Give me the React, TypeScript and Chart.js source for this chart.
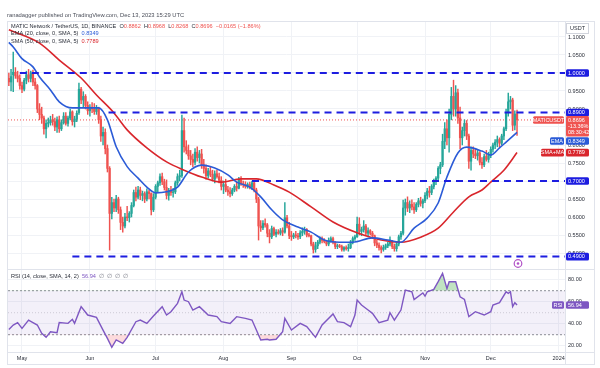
import React, { useEffect, useRef } from 'react';
import { Chart, registerables } from 'chart.js';
Chart.register(...registerables);

// ---------- data ----------
// first candle is 2023-04-25 (day index -6, day 0 = 2023-05-01), one candle per day
const firstDay = -6;
// [open, high, low, close]
const candles: number[][] = [
  [.985,1.000,.965,.975],[.975,1.010,.950,.990],[.995,1.058,.948,1.002],[1.002,1.015,.985,.992],
  [.992,1.005,.975,.985],[.985,.995,.955,.965],[.965,.975,.945,.955],[.955,.985,.950,.980],
  [.980,1.005,.970,.995],[.995,1.010,.975,.985],[.985,1.005,.975,1.000],[1.000,1.008,.965,.975],
  [.975,.985,.955,.965],[.965,.968,.890,.900],[.900,.915,.870,.885],[.885,.905,.860,.875],
  [.875,.880,.830,.845],[.845,.870,.820,.860],[.860,.875,.850,.862],[.862,.880,.855,.870],
  [.870,.885,.855,.865],[.865,.875,.840,.850],[.850,.878,.835,.870],[.870,.880,.835,.845],
  [.845,.870,.840,.862],[.862,.890,.858,.880],[.880,.890,.855,.860],[.860,.880,.852,.875],
  [.875,.900,.870,.892],[.892,.895,.855,.865],[.865,.880,.850,.872],[.872,.895,.865,.888],
  [.890,.972,.885,.955],[.955,.960,.915,.925],[.925,.948,.905,.935],[.935,.940,.900,.910],
  [.910,.920,.885,.895],[.895,.912,.880,.905],[.905,.918,.890,.900],[.900,.915,.885,.893],
  [.893,.910,.885,.903],[.903,.905,.860,.870],[.870,.880,.810,.825],[.825,.850,.800,.835],
  [.835,.845,.775,.790],[.790,.800,.725,.735],[.735,.740,.508,.610],[.610,.655,.595,.640],
  [.640,.650,.615,.625],[.625,.660,.615,.650],[.650,.655,.610,.620],[.620,.628,.565,.585],
  [.585,.600,.558,.575],[.575,.610,.570,.600],[.600,.630,.590,.598],[.598,.615,.586,.610],
  [.610,.640,.600,.632],[.632,.675,.628,.668],[.668,.683,.645,.655],[.655,.685,.650,.675],
  [.675,.683,.648,.660],[.660,.672,.645,.665],[.665,.670,.640,.650],[.650,.678,.645,.670],
  [.670,.675,.650,.665],[.665,.667,.606,.620],[.620,.665,.615,.655],[.655,.690,.650,.685],
  [.685,.700,.670,.695],[.695,.720,.688,.712],[.712,.722,.690,.698],[.698,.705,.675,.682],
  [.682,.703,.650,.660],[.660,.680,.647,.672],[.672,.685,.660,.668],[.668,.680,.655,.670],
  [.670,.700,.665,.695],[.695,.720,.688,.712],[.712,.730,.700,.715],[.715,.883,.710,.840],
  [.840,.875,.780,.795],[.795,.812,.775,.785],[.785,.800,.760,.770],[.770,.785,.745,.760],
  [.760,.775,.740,.752],[.752,.790,.745,.780],[.780,.795,.755,.765],[.765,.785,.750,.775],
  [.775,.788,.735,.745],[.745,.760,.722,.735],[.735,.745,.705,.715],[.715,.735,.708,.728],
  [.728,.740,.712,.718],[.718,.730,.700,.705],[.705,.728,.695,.720],[.720,.730,.708,.712],
  [.712,.722,.695,.702],[.702,.712,.675,.685],[.685,.700,.665,.690],[.690,.705,.670,.675],
  [.675,.685,.660,.670],[.670,.682,.656,.665],[.665,.680,.660,.675],[.675,.690,.670,.685],
  [.685,.698,.672,.680],[.680,.710,.678,.702],[.702,.712,.688,.692],[.692,.700,.682,.690],
  [.690,.698,.680,.685],[.685,.695,.680,.690],[.690,.697,.678,.683],[.683,.700,.676,.695],
  [.695,.698,.670,.675],[.675,.680,.640,.650],[.650,.655,.536,.575],[.575,.590,.560,.570],
  [.570,.590,.565,.582],[.582,.595,.572,.578],[.578,.582,.545,.555],[.555,.565,.528,.545],
  [.545,.575,.540,.568],[.568,.572,.548,.552],[.552,.565,.545,.558],[.558,.565,.552,.555],
  [.555,.568,.550,.562],[.562,.570,.548,.558],[.558,.640,.555,.598],[.598,.605,.570,.575],
  [.575,.585,.540,.548],[.548,.560,.535,.545],[.545,.555,.540,.550],[.550,.560,.542,.548],
  [.548,.555,.538,.545],[.545,.562,.540,.556],[.556,.570,.548,.560],[.560,.572,.552,.565],
  [.565,.568,.545,.550],[.550,.555,.545,.548],[.548,.550,.520,.525],[.525,.530,.500,.510],
  [.510,.530,.502,.520],[.520,.535,.512,.530],[.530,.545,.525,.540],[.540,.545,.528,.535],
  [.535,.540,.528,.532],[.532,.535,.520,.525],[.525,.542,.520,.535],[.535,.545,.530,.540],
  [.540,.544,.525,.530],[.530,.532,.512,.518],[.518,.525,.512,.520],[.520,.524,.515,.518],
  [.518,.522,.505,.510],[.510,.518,.505,.515],[.515,.520,.508,.512],[.512,.525,.505,.515],
  [.515,.535,.512,.530],[.530,.545,.525,.540],[.540,.550,.535,.545],[.545,.600,.543,.580],
  [.580,.598,.550,.560],[.560,.572,.548,.565],[.565,.590,.558,.575],[.575,.580,.550,.555],
  [.555,.570,.548,.562],[.562,.565,.550,.555],[.555,.560,.540,.548],[.548,.550,.520,.528],
  [.528,.535,.515,.522],[.522,.528,.508,.515],[.515,.520,.500,.510],[.510,.522,.505,.515],
  [.515,.525,.510,.520],[.520,.530,.515,.525],[.525,.545,.520,.530],[.530,.535,.512,.518],
  [.518,.525,.505,.512],[.512,.530,.505,.525],[.525,.550,.520,.545],[.545,.560,.538,.555],
  [.555,.647,.550,.625],[.625,.650,.605,.640],[.640,.656,.615,.625],[.625,.645,.612,.635],
  [.635,.648,.620,.628],[.628,.640,.610,.620],[.620,.640,.615,.635],[.635,.652,.628,.645],
  [.645,.655,.630,.638],[.638,.650,.625,.645],[.645,.668,.640,.660],[.660,.680,.650,.672],
  [.672,.685,.655,.668],[.668,.690,.662,.685],[.685,.705,.678,.700],[.700,.712,.690,.708],
  [.708,.740,.700,.735],[.735,.752,.720,.745],[.745,.830,.740,.810],[.810,.862,.790,.845],
  [.845,.870,.800,.820],[.820,.900,.780,.885],[.885,.960,.870,.935],[.935,.980,.880,.900],
  [.900,.965,.880,.945],[.945,.955,.860,.875],[.875,.905,.790,.820],[.820,.850,.800,.840],
  [.840,.870,.825,.860],[.860,.868,.815,.825],[.825,.830,.735,.755],[.755,.795,.730,.785],
  [.785,.795,.765,.775],[.775,.790,.762,.770],[.770,.785,.758,.778],[.778,.782,.745,.752],
  [.752,.765,.735,.745],[.745,.775,.740,.768],[.768,.785,.755,.760],[.760,.780,.752,.772],
  [.772,.795,.765,.788],[.788,.805,.780,.800],[.800,.815,.790,.808],[.808,.825,.795,.815],
  [.815,.820,.795,.805],[.805,.830,.800,.825],[.825,.850,.815,.845],[.845,.900,.840,.890],
  [.890,.944,.880,.920],[.920,.935,.900,.925],[.925,.930,.840,.855],[.855,.895,.842,.886],
  [.8862,.8968,.8268,.8696],
];

const emaDays = [-6,-4,0,5,8,13,17,23,28,35,39,43,48,53,57,61,66,71,76,82,88,94,98,104,109,114,119,126,132,138,145,151,160,167,173,179,185,190,194,199,203,210,214,218,221,226];
const emaValues = [1.085,1.072,1.04,1.017,0.989,0.953,0.92,0.903,0.903,0.903,0.87,0.795,0.74,0.708,0.683,0.667,0.67,0.683,0.725,0.744,0.736,0.717,0.697,0.683,0.656,0.62,0.592,0.572,0.558,0.536,0.53,0.53,0.542,0.536,0.53,0.569,0.597,0.639,0.711,0.778,0.794,0.783,0.772,0.792,0.808,0.8349];

const smaDays = [-6,8,17,27,34,42,48,57,66,74,82,91,100,107,115,122,132,142,153,164,173,182,190,197,204,210,214,220,226];
const smaValues = [1.12,1.083,1.036,0.986,0.939,0.889,0.842,0.792,0.753,0.73,0.711,0.697,0.706,0.706,0.689,0.669,0.628,0.586,0.556,0.536,0.53,0.544,0.569,0.614,0.656,0.675,0.697,0.73,0.7789];

const rsiDays = [-6,-4,-2,0,3,5,7,9,11,13,16,17,21,23,24,27,30,34,37,39,41,43,46,48,52,54,57,60,64,66,68,71,73,74,76,78,81,85,89,91,95,98,102,105,107,109,112,113,116,119,120,123,127,130,134,137,142,144,147,150,152,153,155,158,160,163,167,168,170,173,175,178,179,183,184,185,188,190,192,194,195,198,200,202,204,207,209,211,214,215,218,221,222,223,224,225,226];
const rsiValues = [34.8,38.8,41,35.8,43.3,41,38.8,31.2,27.6,32.7,31.8,41,40.3,44,40.3,55.5,47.9,45.8,34.2,26.7,18.5,25.2,22.1,27.6,41.8,43.3,40.3,47,55.5,47.9,50.9,58.5,69,61.5,60,52.4,55.5,47.9,46.4,41.8,40.3,46.4,44.8,43.3,34.2,25.2,25.8,25.2,25.8,32.7,44.8,34.2,40.3,37.3,27.6,38.8,48.8,41.8,41,37.3,47.9,61.5,57,52.4,49.4,41,43.3,50,43.3,52.4,70.6,69,62,68,65,69,71.2,78.2,85.8,72,78.2,78.2,64.5,62,46.4,50.9,49.4,47.9,50.9,57,59.1,69,67.6,69,55.5,59.1,56.94];

const monthTicks = [0, 31, 61, 92, 123, 153, 184, 214, 245];
const monthLabels = ['May', 'Jun', 'Jul', 'Aug', 'Sep', 'Oct', 'Nov', 'Dec', '2024'];
const priceTicks = [0.5, 0.55, 0.6, 0.65, 0.7, 0.75, 0.8, 0.85, 0.9, 0.95, 1.0, 1.05, 1.1];
const rsiTicks = [20, 40, 60, 80];

const levels = [1.0, 0.89, 0.7, 0.49];
const levelStartDays = [-1, 39.5, 105, 23];
const lastPrice = 0.8696;

const titleText = 'ranadagger published on TradingView.com, Dec 13, 2023 15:29 UTC';

// ---------- styling ----------
const FONT = "'Liberation Sans', Arial, sans-serif";
const UP = '#26a69a';
const DOWN = '#ef5350';
const LEVEL_BLUE = '#1d1de0';
const EMA_BLUE = '#2b5bd7';
const SMA_RED = '#d9262c';
const PURPLE = '#7e57c2';
const TEXT = '#2a2e39';
const GRID = '#f0f2f6';
const X_MIN = -6.39;
const X_MAX = 247.9;

function drawSegs(ctx: any, x: number, y: number, parts: [string, string][]) {
  let cx = x;
  for (const [t, c] of parts) {
    ctx.fillStyle = c;
    ctx.fillText(t, cx, y);
    cx += ctx.measureText(t).width;
  }
}

function box(ctx: any, x0: number, x1: number, y0: number, y1: number, bg: string) {
  ctx.fillStyle = bg;
  ctx.beginPath();
  if (ctx.roundRect) ctx.roundRect(x0, y0, x1 - x0, y1 - y0, 1.5);
  else ctx.rect(x0, y0, x1 - x0, y1 - y0);
  ctx.fill();
}

const overlayPlugin = {
  id: 'tvOverlay',
  beforeDraw(chart: any) {
    const ctx = chart.ctx;
    ctx.save();
    ctx.fillStyle = '#ffffff';
    ctx.fillRect(0, 0, chart.width, chart.height);
    ctx.restore();
  },
  afterDraw(chart: any) {
    const ctx = chart.ctx;
    const ca = chart.chartArea;
    const ys = chart.scales.y;
    const rs = chart.scales.yRsi;
    ctx.save();
    // frame and separators
    ctx.strokeStyle = '#e0e3eb';
    ctx.lineWidth = 1;
    ctx.strokeRect(7.5, 21.5, 587, 343);
    ctx.beginPath();
    ctx.moveTo(ca.right + 0.5, 21.5); ctx.lineTo(ca.right + 0.5, 364.5);
    ctx.moveTo(7.5, Math.round(ys.bottom) + 0.5); ctx.lineTo(594.5, Math.round(ys.bottom) + 0.5);
    ctx.moveTo(7.5, ca.bottom + 0.5); ctx.lineTo(594.5, ca.bottom + 0.5);
    ctx.stroke();

    ctx.textBaseline = 'middle';
    ctx.textAlign = 'left';
    // title
    ctx.font = `5.8px ${FONT}`;
    ctx.fillStyle = '#4a4e59';
    ctx.fillText(titleText, 7, 15);

    // legends
    ctx.font = `5.6px ${FONT}`;
    drawSegs(ctx, 11, 26, [
      ['MATIC Network / TetherUS, 1D, BINANCE  ', TEXT],
      ['O', TEXT], ['0.8862', DOWN], ['  H', TEXT], ['0.8968', DOWN],
      ['  L', TEXT], ['0.8268', DOWN], ['  C', TEXT], ['0.8696', DOWN],
      ['  \u22120.0165 (\u22121.86%)', DOWN],
    ]);
    drawSegs(ctx, 11, 33.5, [['EMA (20, close, 0, SMA, 5)  ', TEXT], ['0.8349', EMA_BLUE]]);
    drawSegs(ctx, 11, 41, [['SMA (50, close, 0, SMA, 5)  ', TEXT], ['0.7789', SMA_RED]]);
    drawSegs(ctx, 11, 276, [['RSI (14, close, SMA, 14, 2)  ', TEXT], ['56.94', PURPLE], ['  \u2205  \u2205  \u2205  \u2205', '#787b86']]);

    // axis labels
    const ax0 = ca.right + 1;
    const ax1 = ca.right + 24;
    const tx = ca.right + 3;
    ctx.font = `5.5px ${FONT}`;
    // USDT box
    ctx.fillStyle = '#ffffff';
    ctx.fillRect(ax0, 23, ax1 - ax0, 11);
    ctx.strokeStyle = '#d1d4dc';
    ctx.strokeRect(ax0 + 0.5, 23.5, ax1 - ax0 - 1, 10);
    ctx.fillStyle = TEXT;
    ctx.textAlign = 'center';
    ctx.fillText('USDT', (ax0 + ax1) / 2, 28.7);
    ctx.textAlign = 'left';

    for (const lv of levels) {
      const yc = ys.getPixelForValue(lv);
      box(ctx, ax0, ax1, yc - 3.8, yc + 3.8, LEVEL_BLUE);
      ctx.fillStyle = '#ffffff';
      ctx.fillText(lv.toFixed(4), tx, yc + 0.3);
    }

    // last price
    const yp = ys.getPixelForValue(lastPrice);
    const redBottom = yp + 16.5;
    box(ctx, ax0, ax1, yp - 4, redBottom, DOWN);
    ctx.fillStyle = '#ffffff';
    ctx.fillText(lastPrice.toFixed(4), tx, yp + 0.3);
    ctx.fillText('-13.36%', tx, yp + 6.7);
    ctx.fillText('08:30:42', tx, yp + 13);
    box(ctx, ca.right - 32, ca.right - 1, yp - 3.8, yp + 3.8, DOWN);
    ctx.fillStyle = '#ffffff';
    ctx.textAlign = 'center';
    ctx.fillText('MATICUSDT', ca.right - 16.5, yp + 0.3);
    ctx.textAlign = 'left';

    // EMA / SMA labels
    const emaLast = emaValues[emaValues.length - 1];
    const smaLast = smaValues[smaValues.length - 1];
    const ye = Math.max(ys.getPixelForValue(emaLast), redBottom + 4.5);
    box(ctx, ax0, ax1, ye - 3.8, ye + 3.8, EMA_BLUE);
    box(ctx, ca.right - 15, ca.right - 1, ye - 3.8, ye + 3.8, EMA_BLUE);
    ctx.fillStyle = '#ffffff';
    ctx.fillText(emaLast.toFixed(4), tx, ye + 0.3);
    ctx.textAlign = 'center';
    ctx.fillText('EMA', ca.right - 8, ye + 0.3);
    ctx.textAlign = 'left';
    const ysm = ys.getPixelForValue(smaLast);
    box(ctx, ax0, ax1, ysm - 3.8, ysm + 3.8, SMA_RED);
    box(ctx, ca.right - 24, ca.right - 1, ysm - 3.8, ysm + 3.8, SMA_RED);
    ctx.fillStyle = '#ffffff';
    ctx.fillText(smaLast.toFixed(4), tx, ysm + 0.3);
    ctx.textAlign = 'center';
    ctx.fillText('SMA+MA', ca.right - 12.5, ysm + 0.3);
    ctx.textAlign = 'left';

    // RSI label
    const rsiLast = rsiValues[rsiValues.length - 1];
    const yr = rs.getPixelForValue(rsiLast);
    box(ctx, ax0, ax1, yr - 3.8, yr + 3.8, PURPLE);
    box(ctx, ca.right - 13, ca.right - 1, yr - 3.8, yr + 3.8, PURPLE);
    ctx.fillStyle = '#ffffff';
    ctx.fillText(rsiLast.toFixed(2), tx, yr + 0.3);
    ctx.textAlign = 'center';
    ctx.fillText('RSI', ca.right - 7, yr + 0.3);

    // event marker icon
    ctx.strokeStyle = '#b04fc6';
    ctx.lineWidth = 1.2;
    ctx.beginPath();
    ctx.arc(518, 263.5, 3.8, 0, Math.PI * 2);
    ctx.stroke();
    ctx.fillStyle = '#b04fc6';
    ctx.beginPath();
    ctx.arc(518, 263.5, 1.3, 0, Math.PI * 2);
    ctx.fill();
    ctx.restore();
  },
};

function buildConfig(): any {
  const colors = candles.map((c) => (c[3] >= c[0] ? UP : DOWN));
  const wickData = candles.map((c, i) => ({ x: firstDay + i, y: [c[2], c[1]] }));
  const bodyData = candles.map((c, i) => ({ x: firstDay + i, y: [c[0], c[3]] }));
  const rsiData = rsiDays.map((d, i) => ({ x: d, y: rsiValues[i] }));

  const levelSets = levels.map((lv, i) => ({
    type: 'line',
    yAxisID: 'y',
    data: [{ x: levelStartDays[i], y: lv }, { x: X_MAX, y: lv }],
    borderColor: LEVEL_BLUE,
    borderWidth: 2,
    borderDash: [7, 5],
    pointRadius: 0,
    order: 0,
  }));

  const tickFont = { family: FONT, size: 5.5 };

  return {
    type: 'bar',
    data: {
      datasets: [
        ...levelSets,
        {
          type: 'line', yAxisID: 'y',
          data: [{ x: X_MIN, y: lastPrice }, { x: X_MAX, y: lastPrice }],
          borderColor: DOWN, borderWidth: 1, borderDash: [1, 2], pointRadius: 0, order: 6,
        },
        {
          type: 'line', yAxisID: 'y',
          data: emaDays.map((d, i) => ({ x: d, y: emaValues[i] })),
          borderColor: EMA_BLUE, borderWidth: 1.6, pointRadius: 0, cubicInterpolationMode: 'monotone', order: 1,
        },
        {
          type: 'line', yAxisID: 'y',
          data: smaDays.map((d, i) => ({ x: d, y: smaValues[i] })),
          borderColor: SMA_RED, borderWidth: 1.6, pointRadius: 0, cubicInterpolationMode: 'monotone', order: 1,
        },
        {
          type: 'bar', yAxisID: 'y', data: wickData, backgroundColor: colors,
          barThickness: 0.8, grouped: false, order: 4,
        },
        {
          type: 'bar', yAxisID: 'y', data: bodyData, backgroundColor: colors,
          barThickness: 1.6, minBarLength: 0.8, grouped: false, order: 3,
        },
        // RSI bands
        {
          type: 'line', yAxisID: 'yRsi',
          data: [{ x: X_MIN, y: 70 }, { x: X_MAX, y: 70 }],
          borderColor: '#8a8d96', borderWidth: 1, borderDash: [2, 2], pointRadius: 0, order: 9,
        },
        {
          type: 'line', yAxisID: 'yRsi',
          data: [{ x: X_MIN, y: 30 }, { x: X_MAX, y: 30 }],
          borderColor: '#8a8d96', borderWidth: 1, borderDash: [2, 2], pointRadius: 0, order: 9,
          fill: '-1', backgroundColor: 'rgba(126,87,194,0.09)',
        },
        {
          type: 'line', yAxisID: 'yRsi',
          data: [{ x: X_MIN, y: 50 }, { x: X_MAX, y: 50 }],
          borderColor: 'rgba(138,141,150,0.35)', borderWidth: 1, borderDash: [1, 2], pointRadius: 0, order: 9,
        },
        {
          type: 'line', yAxisID: 'yRsi', data: rsiData,
          borderColor: PURPLE, borderWidth: 1.4, pointRadius: 0, order: 2,
          fill: { target: { value: 70 }, above: 'rgba(76,175,80,0.35)', below: 'rgba(0,0,0,0)' },
        },
        {
          type: 'line', yAxisID: 'yRsi', data: rsiData,
          borderColor: 'rgba(0,0,0,0)', borderWidth: 0, pointRadius: 0, order: 8,
          fill: { target: { value: 30 }, above: 'rgba(0,0,0,0)', below: 'rgba(242,54,69,0.18)' },
        },
      ],
    },
    options: {
      animation: false,
      responsive: false,
      devicePixelRatio: 1,
      events: [],
      layout: { padding: { left: 8, top: 21, right: 6, bottom: 4 } },
      plugins: { legend: { display: false }, tooltip: { enabled: false }, title: { display: false } },
      scales: {
        x: {
          type: 'linear',
          min: X_MIN,
          max: X_MAX,
          offset: false,
          afterBuildTicks: (s: any) => { s.ticks = monthTicks.map((v) => ({ value: v })); },
          afterFit: (s: any) => { s.height = 12; },
          ticks: {
            font: tickFont, color: TEXT, padding: 3, maxRotation: 0, autoSkip: false,
            callback: (v: number) => monthLabels[monthTicks.indexOf(v)] ?? '',
          },
          grid: { color: GRID, drawTicks: false, offset: false },
          border: { display: false },
        },
        y: {
          type: 'linear',
          position: 'right',
          stack: 'panes',
          stackWeight: 248,
          min: 0.4556,
          max: 1.1444,
          afterBuildTicks: (s: any) => { s.ticks = priceTicks.map((v) => ({ value: v })); },
          afterFit: (s: any) => { s.width = 29; },
          ticks: { font: tickFont, color: TEXT, padding: 3, callback: (v: number) => v.toFixed(4) },
          grid: { color: GRID, drawTicks: false },
          border: { display: false },
        },
        yRsi: {
          type: 'linear',
          position: 'right',
          stack: 'panes',
          stackWeight: 83,
          min: 14.27,
          max: 89.73,
          afterBuildTicks: (s: any) => { s.ticks = rsiTicks.map((v) => ({ value: v })); },
          afterFit: (s: any) => { s.width = 29; },
          ticks: { font: tickFont, color: TEXT, padding: 3, callback: (v: number) => v.toFixed(2) },
          grid: { color: GRID, drawTicks: false },
          border: { display: false },
        },
      },
    },
    plugins: [overlayPlugin],
  };
}

export default function App() {
  const ref = useRef<HTMLCanvasElement>(null);
  useEffect(() => {
    const chart = new Chart(ref.current as HTMLCanvasElement, buildConfig());
    return () => chart.destroy();
  }, []);
  return (
    <div style={{ position: 'fixed', left: 0, top: 0, width: 600, height: 368, background: '#ffffff' }}>
      <canvas ref={ref} width={600} height={368} style={{ display: 'block', width: 600, height: 368 }} />
    </div>
  );
}
